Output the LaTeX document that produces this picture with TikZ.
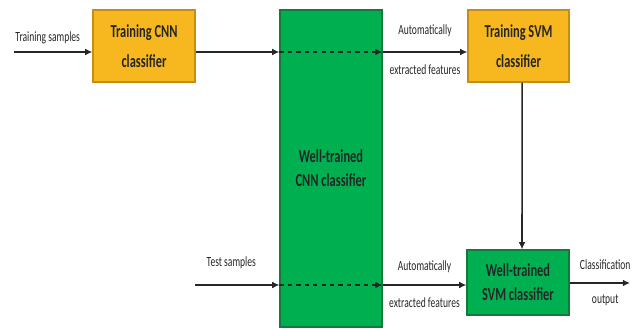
\documentclass[tikz,border=0pt]{standalone}
\usepackage{fontspec}
\setmainfont{Carlito}
\usepackage{graphicx}
\usetikzlibrary{arrows.meta, positioning, calc}
\definecolor{cGold}{RGB}{246,184,30}
\definecolor{cGoldDk}{RGB}{196,142,22}
\definecolor{cGreen}{RGB}{0,176,80}
\definecolor{cGreenDk}{RGB}{22,120,58}
\newcommand{\nrw}[1]{\scalebox{0.68}[1]{#1}}
\tikzset{
	trainblk/.style={rectangle, draw=cGoldDk, line width=0.8pt, fill=cGold, minimum width=2.55cm, minimum height=1.8cm, align=center, inner sep=0pt, font=\fontsize{13}{15}\selectfont\bfseries, text=black!85},
	wellblk/.style ={rectangle, draw=cGreenDk, line width=0.8pt, fill=cGreen, minimum width=2.55cm, align=center, inner sep=0pt, font=\fontsize{13}{15}\selectfont\bfseries, text=black!85},
	sig/.style     ={-{Latex[length=1.8mm, width=1.7mm]}, line width=1.1pt, black!85},
	dsig/.style    ={sig, dash pattern=on 3pt off 3pt},
	lbl/.style     ={font=\fontsize{10}{12}\selectfont, text=black!85, inner sep=0pt},
}

\begin{document}
\begin{tikzpicture}
	\useasboundingbox (0,0) rectangle (15.95,8.225);
	% ---------------- blocks ----------------
	\node[trainblk] (cnntrain) at (3.6,7.075) {\nrw{Training CNN}\\[6pt]\nrw{classifier}};
	\node[wellblk, minimum height=7.925cm] (cnnwell) at (8.275,4.0125) {\nrw{Well-trained}\\[2pt]\nrw{CNN classifier}};
	\node[trainblk, minimum width=2.525cm] (svmtrain) at (12.9625,7.075) {\nrw{Training SVM}\\[6pt]\nrw{classifier}};
	\node[wellblk, minimum height=1.625cm] (svmwell) at (12.95,1.1625) {\nrw{Well-trained}\\[2pt]\nrw{SVM classifier}};
	% ---------------- rows ----------------
	\coordinate (trainin) at (0.35,6.925);
	\coordinate (testin) at (4.875,1.1);
	\coordinate (out) at (15.75,1.15);
	% ---------------- training ----------------
	\draw[sig] (trainin) -- (cnntrain.west |- trainin) node[lbl, pos=0.43, yshift=0.35cm] {\nrw{Training samples}};
	\draw[sig] (cnntrain.east |- trainin) -- (cnnwell.west |- trainin);
	\draw[dsig] (cnnwell.west |- trainin) -- (cnnwell.east |- trainin);
	\draw[sig] (cnnwell.east |- trainin) -- (svmtrain.west |- trainin)
		node[lbl, midway, yshift=0.525cm] {\nrw{Automatically}}
		node[lbl, midway, yshift=-0.45cm] {\nrw{extracted features}};
	\draw[sig] ([xshift=0.09cm]svmtrain.south) -- ([xshift=0.1cm]svmwell.north);
	% ---------------- testing ----------------
	\draw[sig] (testin) -- (cnnwell.west |- testin) node[lbl, pos=0.43, yshift=0.55cm] {\nrw{Test samples}};
	\draw[dsig] (cnnwell.west |- testin) -- (cnnwell.east |- testin);
	\draw[sig] (cnnwell.east |- testin) -- (svmwell.west |- testin)
		node[lbl, midway, yshift=0.45cm] {\nrw{Automatically}}
		node[lbl, midway, yshift=-0.45cm] {\nrw{extracted features}};
	\draw[sig] (svmwell.east |- out) -- (out)
		node[lbl, pos=0.59, yshift=0.45cm] {\nrw{Classification}}
		node[lbl, pos=0.59, yshift=-0.425cm] {\nrw{output}};
\end{tikzpicture}
\end{document}
